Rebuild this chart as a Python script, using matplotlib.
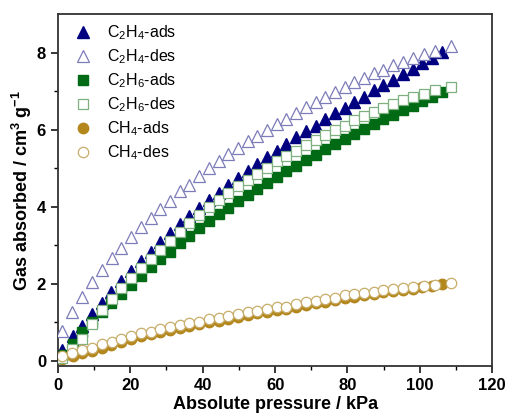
import numpy as np
import matplotlib.pyplot as plt

plt.rcParams['font.family'] = 'Liberation Sans'
plt.rcParams['mathtext.fontset'] = 'custom'
plt.rcParams['mathtext.rm'] = 'Liberation Sans'
plt.rcParams['mathtext.it'] = 'Liberation Sans:italic'
plt.rcParams['mathtext.bf'] = 'Liberation Sans:bold'

# pressure points (kPa)
p_ads = [1.2, 4.2, 6.75, 9.35, 12.1, 14.7, 17.5, 20.1, 22.9, 25.6,
         28.1, 30.9, 33.6, 36.2, 39.0, 41.8, 44.4, 47.0, 49.7, 52.4,
         55.1, 57.8, 60.5, 63.1, 65.8, 68.5, 71.2, 73.9, 76.6, 79.3,
         81.9, 84.5, 87.3, 89.9, 92.7, 95.3, 98.0, 100.6, 103.3, 106.1]
p_des = [1.1, 4.0, 6.75, 9.35, 12.1, 14.9, 17.5, 20.3, 22.9, 25.6,
         28.1, 30.9, 33.6, 36.2, 39.0, 41.8, 44.4, 47.0, 49.7, 52.4,
         55.1, 57.8, 60.5, 63.1, 65.8, 68.5, 71.2, 73.9, 76.6, 79.3,
         81.9, 84.5, 87.3, 89.9, 92.7, 95.3, 98.2, 101.2, 104.1, 108.7]

c2h4_ads = [0.28, 0.66, 0.92, 1.21, 1.51, 1.80, 2.08, 2.34, 2.60, 2.84,
            3.10, 3.33, 3.56, 3.77, 3.98, 4.18, 4.37, 4.57, 4.74, 4.94,
            5.11, 5.30, 5.46, 5.63, 5.80, 5.96, 6.11, 6.28, 6.43, 6.56,
            6.71, 6.86, 7.02, 7.17, 7.30, 7.44, 7.58, 7.73, 7.86, 8.02]
c2h4_des = [0.78, 1.28, 1.67, 2.06, 2.36, 2.67, 2.94, 3.21, 3.47, 3.70,
            3.95, 4.14, 4.40, 4.57, 4.81, 5.00, 5.19, 5.36, 5.52, 5.70,
            5.84, 6.00, 6.15, 6.29, 6.43, 6.58, 6.72, 6.85, 6.98, 7.10,
            7.23, 7.34, 7.47, 7.56, 7.67, 7.77, 7.86, 7.97, 8.04, 8.16]
c2h6_ads = [0.16, 0.44, 0.74, 1.02, 1.27, 1.50, 1.73, 1.97, 2.21, 2.45,
            2.64, 2.84, 3.06, 3.25, 3.44, 3.62, 3.81, 3.98, 4.16, 4.31,
            4.47, 4.62, 4.77, 4.92, 5.06, 5.22, 5.35, 5.50, 5.64, 5.77,
            5.89, 6.02, 6.15, 6.28, 6.39, 6.50, 6.62, 6.74, 6.86, 6.99]
c2h6_des = [0.08, 0.30, 0.56, 0.96, 1.32, 1.60, 1.89, 2.15, 2.41, 2.64,
            2.88, 3.12, 3.36, 3.58, 3.79, 3.99, 4.18, 4.36, 4.53, 4.70,
            4.86, 5.02, 5.18, 5.32, 5.46, 5.61, 5.74, 5.87, 6.00, 6.10,
            6.24, 6.35, 6.46, 6.56, 6.68, 6.76, 6.84, 6.93, 7.02, 7.11]
ch4_ads = [0.05, 0.13, 0.21, 0.27, 0.35, 0.42, 0.50, 0.57, 0.64, 0.69,
           0.75, 0.80, 0.86, 0.91, 0.95, 1.01, 1.05, 1.10, 1.14, 1.19,
           1.24, 1.28, 1.32, 1.35, 1.40, 1.45, 1.50, 1.53, 1.58, 1.63,
           1.67, 1.71, 1.74, 1.78, 1.82, 1.85, 1.88, 1.92, 1.95, 2.00]
ch4_des = [0.12, 0.20, 0.29, 0.35, 0.43, 0.50, 0.58, 0.65, 0.72, 0.76,
           0.82, 0.87, 0.94, 0.98, 1.02, 1.08, 1.12, 1.17, 1.21, 1.26,
           1.31, 1.35, 1.39, 1.41, 1.47, 1.52, 1.57, 1.60, 1.64, 1.70,
           1.73, 1.77, 1.80, 1.84, 1.87, 1.89, 1.91, 1.95, 1.97, 2.02]

fig = plt.figure(figsize=(5.08, 4.15), dpi=100)
ax = fig.add_axes([0.114, 0.118, 0.855, 0.848])

ax.plot(p_ads, c2h4_ads, '^', ms=8.5, color='#000080', mec='#000080',
        ls='none', zorder=2, label=r'C$_2$H$_4$-ads')
ax.plot(p_des, c2h4_des, '^', ms=8.5, mfc='white', mec='#7c7cb8', mew=0.9,
        ls='none', zorder=3, label=r'C$_2$H$_4$-des')
ax.plot(p_ads, c2h6_ads, 's', ms=7, color='#006a14', mec='#006a14',
        ls='none', zorder=2, label=r'C$_2$H$_6$-ads')
ax.plot(p_des, c2h6_des, 's', ms=7, mfc='white', mec='#7fb080', mew=0.9,
        ls='none', zorder=3, label=r'C$_2$H$_6$-des')
ax.plot(p_ads, ch4_ads, 'o', ms=7.5, color='#b3871c', mec='#b3871c',
        ls='none', zorder=2, label=r'CH$_4$-ads')
ax.plot(p_des, ch4_des, 'o', ms=7.5, mfc='white', mec='#c8ad6a', mew=0.9,
        ls='none', zorder=3, label=r'CH$_4$-des')

ax.set_xlim(0, 120)
ax.set_ylim(-0.13, 9.0)
ax.set_xticks(np.arange(0, 121, 20))
ax.set_xticks(np.arange(10, 120, 20), minor=True)
ax.set_yticks(np.arange(0, 9, 2))
ax.set_yticks(np.arange(1, 9, 2), minor=True)
ax.tick_params(which='major', direction='out', length=5, width=1.1,
               labelsize=12, top=False, right=False)
ax.tick_params(which='minor', direction='out', length=3, width=1.0,
               top=False, right=False)
for lab in ax.get_xticklabels() + ax.get_yticklabels():
    lab.set_fontweight('bold')
for s in ax.spines.values():
    s.set_linewidth(1.3)
    s.set_color('#333333')

ax.set_xlabel('Absolute pressure / kPa', fontsize=13, fontweight='bold',
              labelpad=2)
ax.set_ylabel(r'Gas absorbed / cm$^\mathbf{3}$ g$^\mathbf{-1}$',
              fontsize=13, fontweight='bold', labelpad=2)

ax.legend(loc='upper left', frameon=False, fontsize=11.5, handletextpad=0.46,
          labelspacing=0.33, borderaxespad=0.2, handlelength=2.0,
          bbox_to_anchor=(0.0, 1.0))

fig.savefig('out.png', dpi=100)
